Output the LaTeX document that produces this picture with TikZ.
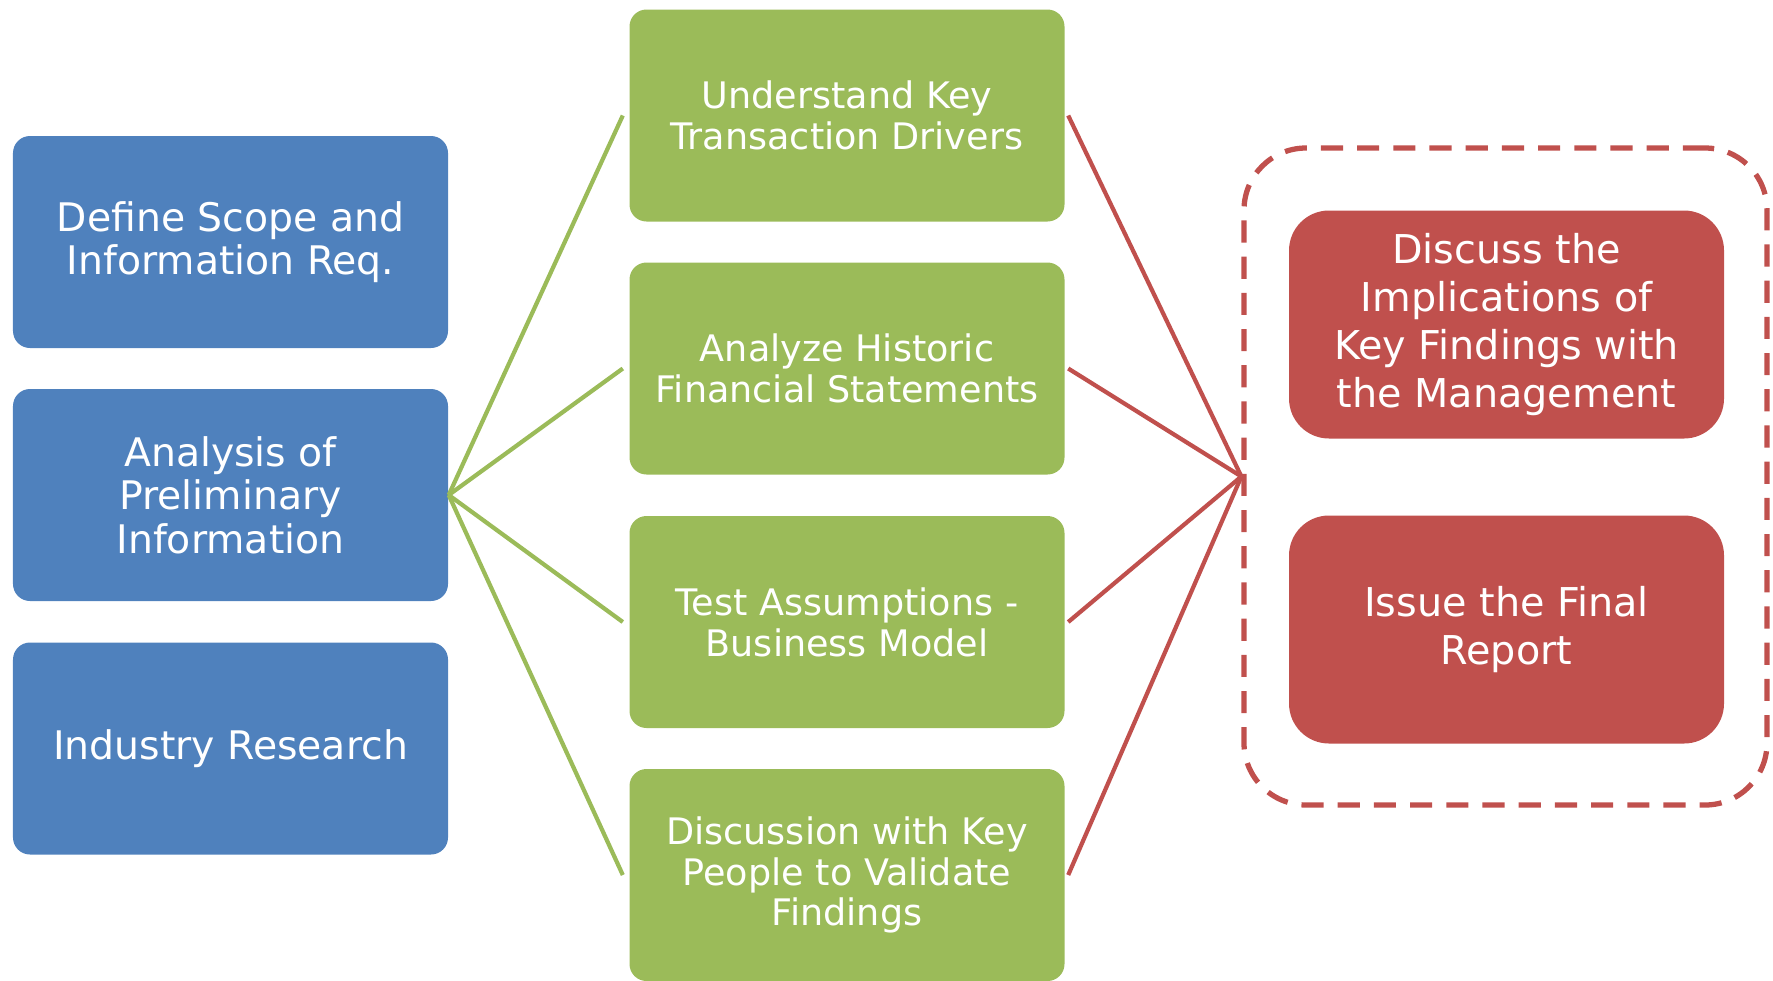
\documentclass[tikz,border=0pt]{standalone}
\usepackage{fontspec}
\setmainfont{DejaVu Sans}
\usepackage{tikz}
\usepackage{color}

\definecolor{stepblue}{HTML}{4F81BD}
\definecolor{stepgreen}{HTML}{9BBB59}
\definecolor{stepred}{HTML}{C0504D}

\tikzset{
  box/.style={rounded corners=0.17cm, minimum width=4.35cm, minimum height=2.12cm,
    text=white, align=center, inner sep=0pt},
  bluebox/.style={box, fill=stepblue, font=\fontsize{11.2}{12.4}\selectfont},
  greenbox/.style={box, fill=stepgreen, font=\fontsize{10.4}{11.6}\selectfont},
  redbox/.style={box, fill=stepred, rounded corners=0.4cm, minimum height=2.28cm,
    font=\fontsize{11.3}{13.7}\selectfont},
  greenline/.style={stepgreen, line width=1.2pt},
  redline/.style={stepred, line width=1.2pt}
}

\begin{document}
\begin{tikzpicture}
\useasboundingbox (0,0) rectangle (17.73,9.80);

\node[draw=stepred, line width=1.5pt, dash pattern=on 6.3pt off 4pt, rounded corners=0.62cm,
  minimum width=5.23cm, minimum height=6.57cm] (grp) at (15.055,5.035) {};

\node[bluebox] (scope) at (2.305,7.38) {Define Scope and\\Information Req.};
\node[bluebox] (prelim) at (2.305,4.85) {Analysis of\\Preliminary\\Information};
\node[bluebox] (industry) at (2.305,2.315) {Industry Research};

\node[greenbox] (drivers) at (8.47,8.645) {Understand Key\\Transaction Drivers};
\node[greenbox] (historic) at (8.47,6.115) {Analyze Historic\\Financial Statements};
\node[greenbox] (assume) at (8.47,3.58) {Test Assumptions -\\Business Model};
\node[greenbox] (validate) at (8.47,1.05) {Discussion with Key\\People to Validate\\Findings};

\node[redbox] (discuss) at (15.065,6.555) {Discuss the\\Implications of\\Key Findings with\\the Management};
\node[redbox] (report) at (15.065,3.505) {Issue the Final\\Report};

\foreach \g in {drivers,historic,assume,validate} {
  \draw[greenline] (prelim.east) -- ([xshift=-0.06cm]\g.west);
  \draw[redline] ([xshift=0.03cm]\g.east) -- (grp.west);
}

\end{tikzpicture}
\end{document}
